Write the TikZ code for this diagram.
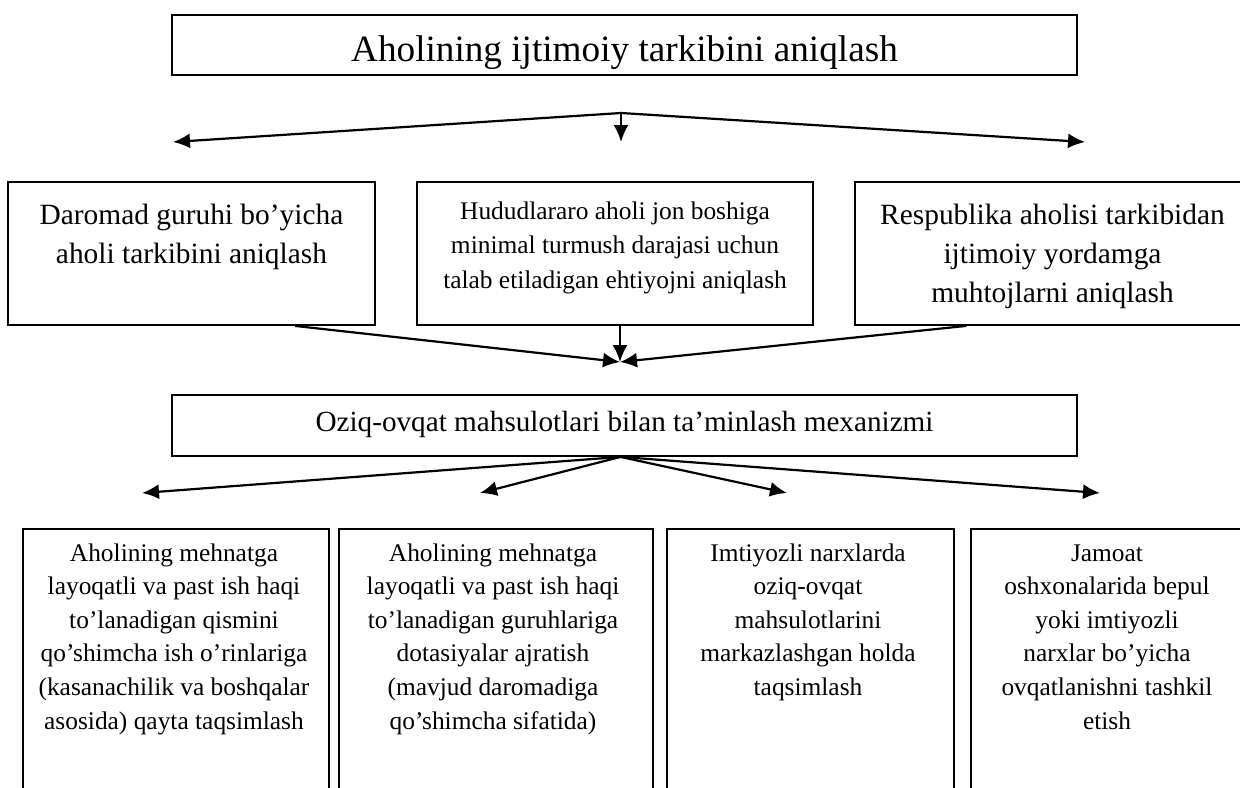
\documentclass[tikz,border=0pt]{standalone}
\usepackage{fontspec}
\setmainfont{Liberation Serif}
\usetikzlibrary{arrows.meta}
\newcommand{\fsz}[2]{\fontsize{#1}{#2}\selectfont}

\begin{document}
\begin{tikzpicture}[>={Latex[length=8.5pt,width=7.5pt]},
  box/.style={draw, line width=0.9pt, inner sep=0pt},
  lbl/.style={anchor=base, inner sep=0pt, text width=220pt, align=flush center},
  arr/.style={->, line width=1.1pt}]
  \clip (0pt,0pt) rectangle (620pt,-393.5pt);
  % Boxes
  \node (goal) at (312.25pt,-22.5pt) [box, minimum width=452.5pt, minimum height=30pt] {};

  \node (dar) at (95.75pt,-126.75pt) [box, minimum width=183.5pt, minimum height=71.5pt] {};
  \node (hud) at (307.5pt,-126.75pt) [box, minimum width=198pt, minimum height=71.5pt] {};
  \node (res) at (526.25pt,-126.75pt) [box, minimum width=197.5pt, minimum height=71.5pt] {};

  \node (mech) at (312.25pt,-212.75pt) [box, minimum width=452.5pt, minimum height=30.5pt] {};

  \node (work) at (88pt,-332.25pt) [box, minimum width=153pt, minimum height=135.5pt] {};
  \node (dota) at (248pt,-332.25pt) [box, minimum width=157pt, minimum height=135.5pt] {};
  \node (cent) at (405.25pt,-332.25pt) [box, minimum width=143.5pt, minimum height=135.5pt] {};
  \node (canteen) at (553.75pt,-332.25pt) [box, minimum width=136.5pt, minimum height=135.5pt] {};

  % Texts
  \node (goaltext) at (312.25pt,-30.5pt) [lbl, text width=420pt, font=\fsz{18.6pt}{22pt}] {Aholining ijtimoiy tarkibini aniqlash};

  \node (dartext) at (95.75pt,-112pt) [lbl, font=\fsz{14.7pt}{19.5pt}] {Daromad guruhi bo'yicha\\ aholi tarkibini aniqlash};
  \node (hudtext) at (307.5pt,-109.5pt) [lbl, font=\fsz{12.7pt}{17.25pt}] {Hududlararo aholi jon boshiga\\ minimal turmush darajasi uchun\\ talab etiladigan ehtiyojni aniqlash};
  \node (restext) at (526.25pt,-112pt) [lbl, font=\fsz{14.7pt}{19.5pt}] {Respublika aholisi tarkibidan\\ ijtimoiy yordamga\\ muhtojlarni aniqlash};

  \node (mechtext) at (312.25pt,-215.5pt) [lbl, text width=420pt, font=\fsz{14.6pt}{18pt}] {Oziq-ovqat mahsulotlari bilan ta'minlash mexanizmi};

  \node (worktext) at (87pt,-280.5pt) [lbl, font=\fsz{12.7pt}{16.8pt}] {Aholining mehnatga\\ layoqatli va past ish haqi\\ to'lanadigan qismini\\ qo'shimcha ish o'rinlariga\\ (kasanachilik va boshqalar\\ asosida) qayta taqsimlash};
  \node (dotatext) at (246.5pt,-280.5pt) [lbl, font=\fsz{12.7pt}{16.8pt}] {Aholining mehnatga\\ layoqatli va past ish haqi\\ to'lanadigan guruhlariga\\ dotasiyalar ajratish\\ (mavjud daromadiga\\ qo'shimcha sifatida)};
  \node (centtext) at (404pt,-280.5pt) [lbl, font=\fsz{12.7pt}{16.8pt}] {Imtiyozli narxlarda\\ oziq-ovqat\\ mahsulotlarini\\ markazlashgan holda\\ taqsimlash};
  \node (canteentext) at (553.5pt,-280.5pt) [lbl, font=\fsz{12.7pt}{16.8pt}] {Jamoat\\ oshxonalarida bepul\\ yoki imtiyozli\\ narxlar bo'yicha\\ ovqatlanishni tashkil\\ etish};

  % Edges
  \coordinate (fork1) at (310.5pt,-56.5pt);
  \coordinate (tipl) at (86.5pt,-71pt);
  \coordinate (tipm) at (310.5pt,-71pt);
  \coordinate (tipr) at (542.5pt,-71pt);
  \draw[arr] (fork1) -- (tipl);
  \draw[arr] (fork1) -- (tipm);
  \draw[arr] (fork1) -- (tipr);

  \coordinate (meet) at (310pt,-181pt);
  \draw[arr] (dar.-35.4) -- (meet);
  \draw[arr] (hud.south -| meet) -- (meet);
  \draw[arr] (res.-140.4) -- (meet);

  \coordinate (fork2) at ([xshift=-2pt]mech.south);
  \coordinate (tip1) at (71pt,-246.5pt);
  \coordinate (tip2) at (240pt,-246.5pt);
  \coordinate (tip3) at (393.5pt,-246.5pt);
  \coordinate (tip4) at (550pt,-246.5pt);
  \draw[arr] (fork2) -- (tip1);
  \draw[arr] (fork2) -- (tip2);
  \draw[arr] (fork2) -- (tip3);
  \draw[arr] (fork2) -- (tip4);
\end{tikzpicture}
\end{document}
